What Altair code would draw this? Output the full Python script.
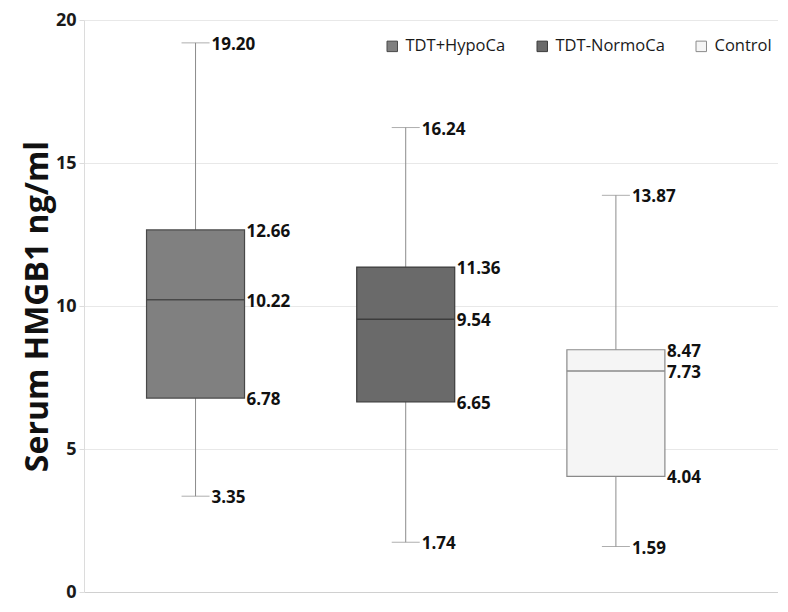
import altair as alt
import pandas as pd

groups = ["TDT+HypoCa", "TDT-NormoCa", "Control"]
mins = [3.35, 1.74, 1.59]
q1s = [6.78, 6.65, 4.04]
medians = [10.22, 9.54, 7.73]
q3s = [12.66, 11.36, 8.47]
maxs = [19.20, 16.24, 13.87]

fills = ["#808080", "#6a6a6a", "#f5f5f5"]
strokes = ["#484848", "#3c3c3c", "#8a8a8a"]

box = pd.DataFrame({"group": groups, "min": mins, "q1": q1s, "median": medians,
                    "q3": q3s, "max": maxs})

rows = []
for g, a, b, c, d, e in zip(groups, mins, q1s, medians, q3s, maxs):
    rows += [{"group": g, "value": a, "kind": "whisker"},
             {"group": g, "value": b, "kind": "box"},
             {"group": g, "value": c, "kind": "box"},
             {"group": g, "value": d, "kind": "box"},
             {"group": g, "value": e, "kind": "whisker"}]
labels = pd.DataFrame(rows)

FONT = "Open Sans"

xenc = alt.X("group:N", sort=groups, title=None,
             scale=alt.Scale(paddingInner=0.5, paddingOuter=0.401, align=0.35),
             axis=alt.Axis(labels=False, ticks=False, domainColor="#d0d0d0", grid=False))
yscale = alt.Scale(domain=[0, 20], nice=False)

base = alt.Chart(box)

whisk_lo = base.mark_rule(color="#8c8c8c", strokeWidth=1).encode(
    x=xenc,
    y=alt.Y("min:Q", scale=yscale, title="Serum HMGB1 ng/ml",
            axis=alt.Axis(values=[0, 5, 10, 15, 20], format="d")),
    y2="q1:Q")
whisk_hi = base.mark_rule(color="#8c8c8c", strokeWidth=1).encode(
    x=xenc, y=alt.Y("q3:Q", scale=yscale), y2="max:Q")
cap_lo = base.mark_tick(color="#8c8c8c", size=28, thickness=1, orient="horizontal").encode(
    x=xenc, y=alt.Y("min:Q", scale=yscale))
cap_hi = base.mark_tick(color="#8c8c8c", size=28, thickness=1, orient="horizontal").encode(
    x=xenc, y=alt.Y("max:Q", scale=yscale))

fill_enc = alt.Fill("group:N", sort=groups,
                    scale=alt.Scale(domain=groups, range=fills),
                    legend=alt.Legend(title=None, orient="none", legendX=300, legendY=18,
                                      direction="horizontal", symbolType="square",
                                      symbolSize=110, symbolStrokeColor="#404040",
                                      symbolStrokeWidth=1, labelFont=FONT,
                                      labelFontSize=16.5, labelColor="#1a1a1a",
                                      columnPadding=28, labelOffset=5, padding=0))
stroke_enc = alt.Stroke("group:N", sort=groups,
                        scale=alt.Scale(domain=groups, range=strokes), legend=None)

boxes = base.mark_bar(size=98, strokeWidth=1.2).encode(
    x=xenc, y=alt.Y("q1:Q", scale=yscale), y2="q3:Q", fill=fill_enc, stroke=stroke_enc)
med = base.mark_bar(size=98, strokeWidth=1.5, fillOpacity=0).encode(
    x=xenc, y=alt.Y("median:Q", scale=yscale), y2="median:Q", stroke=stroke_enc)

lab_box = alt.Chart(labels).transform_filter(alt.datum.kind == "box").mark_text(
    align="left", baseline="middle", dx=51, dy=2, font=FONT, fontWeight="bold",
    fontSize=17, color="#111111").encode(
    x=xenc, y=alt.Y("value:Q", scale=yscale), text=alt.Text("value:Q", format=".2f"))
lab_wh = alt.Chart(labels).transform_filter(alt.datum.kind == "whisker").mark_text(
    align="left", baseline="middle", dx=16, dy=2, font=FONT, fontWeight="bold",
    fontSize=17, color="#111111").encode(
    x=xenc, y=alt.Y("value:Q", scale=yscale), text=alt.Text("value:Q", format=".2f"))

chart = alt.layer(whisk_lo, whisk_hi, cap_lo, cap_hi, boxes, med, lab_box, lab_wh).properties(
    width=694, height=572,
    autosize=alt.AutoSizeParams(type="none"),
    padding={"left": 76, "top": 12, "right": 0, "bottom": 12},
).configure_view(stroke=None).configure_axisY(
    gridColor="#e8e8e8", domainColor="#dcdcdc", tickColor="#dcdcdc", tickSize=5,
    labelFont=FONT, labelFontWeight="bold", labelFontSize=18, labelColor="#1a1a1a",
    labelPadding=3, titleFont=FONT, titleFontWeight="bold", titleFontSize=32,
    titleColor="#111111", titlePadding=1,
)

chart.save("out.html", embed_options={"renderer": "svg", "actions": False})
